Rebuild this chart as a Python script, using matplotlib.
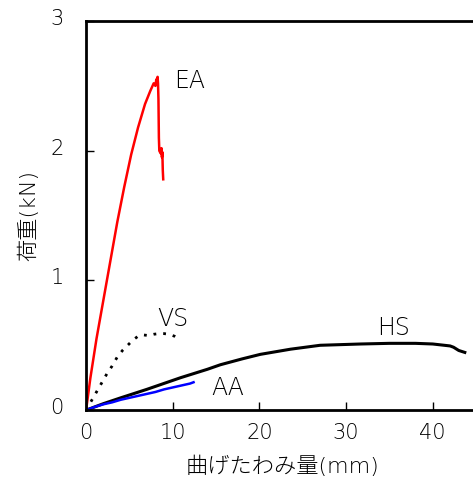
import matplotlib
matplotlib.use("Agg")
import matplotlib.pyplot as plt
import matplotlib.transforms as mtrans

plt.rcParams['font.family'] = ['DejaVu Sans', 'Noto Sans CJK JP']

ea_x = [0, 0.5, 1.2, 2.0, 2.8, 3.6, 4.4, 5.2, 6.0, 6.8, 7.4, 7.8, 8.0, 8.1, 8.2, 8.25, 8.3, 8.35, 8.4, 8.45, 8.6, 8.7, 8.75, 8.8, 8.85, 8.9]
ea_y = [0, 0.25, 0.55, 0.85, 1.15, 1.45, 1.72, 1.97, 2.18, 2.36, 2.46, 2.52, 2.50, 2.55, 2.53, 2.57, 2.52, 2.40, 2.10, 2.00, 1.98, 2.02, 1.95, 1.99, 1.85, 1.78]

vs_x = [0, 0.6, 1.2, 1.8, 2.4, 3.0, 3.6, 4.2, 4.8, 5.4, 6.0, 6.6, 7.2, 7.8, 8.4, 9.0, 9.6, 10.2, 10.8]
vs_y = [0, 0.07, 0.14, 0.21, 0.28, 0.34, 0.41, 0.46, 0.50, 0.54, 0.57, 0.58, 0.575, 0.585, 0.59, 0.59, 0.585, 0.57, 0.545]

hs_x = [0, 2, 4, 7, 10.9, 14, 15.5, 18, 20.1, 23.6, 27, 31.7, 35, 38, 40, 42, 42.4, 43.0, 43.7]
hs_y = [0, 0.05, 0.095, 0.16, 0.25, 0.315, 0.35, 0.395, 0.43, 0.47, 0.50, 0.51, 0.515, 0.515, 0.51, 0.495, 0.485, 0.46, 0.445]

aa_x = [0, 1, 2, 3, 4, 5, 6, 7, 8, 9, 10, 11, 12, 12.4]
aa_y = [0, 0.025, 0.045, 0.06, 0.08, 0.095, 0.11, 0.125, 0.14, 0.16, 0.175, 0.19, 0.205, 0.215]

labels = ['EA', 'VS', 'HS', 'AA']
label_pos = [(12.0, 2.54), (10.0, 0.70), (35.5, 0.63), (16.3, 0.17)]

xticks = [0, 10, 20, 30, 40]
yticks = [0, 1, 2, 3]

fig = plt.figure(figsize=(4.73, 4.90), dpi=100)
ax = fig.add_axes([0.182, 0.163, 0.83, 0.794])

ax.plot(ea_x, ea_y, color='#ff0000', lw=1.8)
ax.plot(vs_x, vs_y, color='black', lw=2.0, linestyle=(0, (1, 2.5)))
ax.plot(hs_x, hs_y, color='black', lw=2.2)
ax.plot(aa_x, aa_y, color='#0000ff', lw=1.8)

for t, (x, y) in zip(labels, label_pos):
    ax.text(x, y, t, fontsize=17, ha='center', va='center', fontweight='light')

ax.set_xlim(0, 45.3)
ax.set_ylim(0, 3)
ax.set_xticks(xticks)
ax.set_yticks(yticks)
ax.tick_params(direction='in', length=6, width=1, labelsize=15, pad=9)
ax.tick_params(axis='y', pad=16)
offset = mtrans.ScaledTranslation(0, 4 / 100, fig.dpi_scale_trans)
for lab in ax.get_yticklabels():
    lab.set_transform(lab.get_transform() + offset)
for lab in ax.get_xticklabels() + ax.get_yticklabels():
    lab.set_fontweight('light')
for s in ['left', 'bottom', 'top', 'right']:
    ax.spines[s].set_linewidth(2)

ax.set_xlabel('曲げたわみ量(mm)', fontsize=16, labelpad=9, fontweight='light')
ax.set_ylabel('荷重(kN)', fontsize=16, labelpad=8, fontweight='light')

fig.savefig('out.png', dpi=100)
